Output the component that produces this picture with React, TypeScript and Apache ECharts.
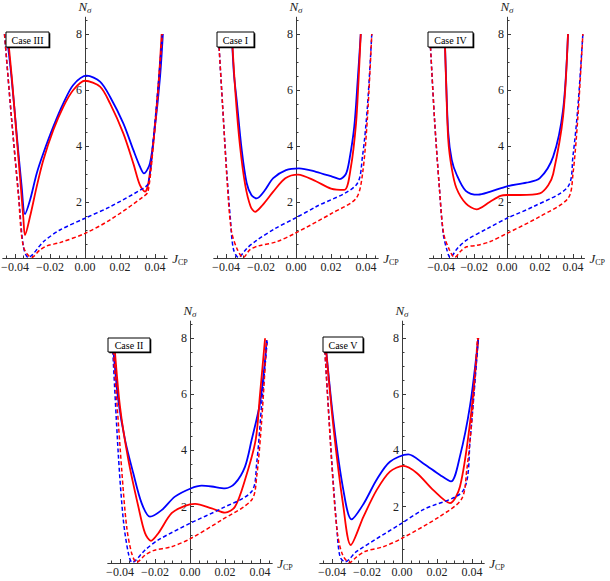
import React, { useEffect, useRef } from "react";
import * as echarts from "echarts";

// ---- axis ticks / labels ----
const xLabelValues = [-0.04, -0.02, 0, 0.02, 0.04];
const xMinorValues = [-0.045, -0.035, -0.03, -0.025, -0.015, -0.01, -0.005, 0.005, 0.01, 0.015, 0.025, 0.03, 0.035, 0.045];
const yLabelValues = [2, 4, 6, 8];
const yMinorValues = [0.5, 1, 1.5, 2.5, 3, 3.5, 4.5, 5, 5.5, 6.5, 7, 7.5, 8.5];
const caseNames = ["Case III", "Case I", "Case IV", "Case II", "Case V"];

// ---- Case III ----
const case3BlueSolid = [[-0.0448, 8], [-0.0419, 6.4], [-0.039, 4.4], [-0.0362, 2.55], [-0.0343, 1.57], [-0.0314, 2.07], [-0.0276, 3.02], [-0.0238, 3.74], [-0.0181, 4.69], [-0.0124, 5.52], [-0.0067, 6.18], [0.001, 6.51], [0.0086, 6.3], [0.0143, 5.76], [0.0219, 4.81], [0.0276, 3.86], [0.0314, 3.26], [0.0337, 3.02], [0.0371, 3.38], [0.04, 4.69], [0.0429, 6.48], [0.0445, 8]];
const case3RedSolid = [[-0.0442, 8], [-0.0417, 6.36], [-0.039, 4.3], [-0.0365, 2.4], [-0.0352, 1.4], [-0.0343, 0.82], [-0.0314, 1.48], [-0.0276, 2.55], [-0.0238, 3.5], [-0.0181, 4.57], [-0.0124, 5.4], [-0.0067, 6.0], [0, 6.33], [0.0086, 6.12], [0.0143, 5.52], [0.0219, 4.45], [0.0276, 3.38], [0.0314, 2.6], [0.0343, 2.37], [0.0362, 2.67], [0.039, 4.1], [0.0419, 6.12], [0.0438, 8]];
const case3BlueDashed = [[-0.046, 8], [-0.042, 5], [-0.038, 2.3], [-0.0352, 0.4], [-0.0324, 0.02], [-0.0238, 0.58], [-0.0143, 1.0], [0, 1.42], [0.0143, 1.83], [0.0333, 2.49], [0.0362, 2.67], [0.039, 4.2], [0.042, 6.3], [0.0442, 8]];
const case3RedDashed = [[-0.046, 8], [-0.042, 5], [-0.038, 2.2], [-0.0352, 0.4], [-0.0305, 0.02], [-0.0257, 0.29], [-0.0219, 0.43], [-0.0143, 0.55], [0, 0.88], [0.0143, 1.36], [0.0333, 2.19], [0.036, 2.37], [0.039, 4.0], [0.042, 6.2], [0.0442, 8]];

// ---- Case I ----
const case1BlueSolid = [[-0.0367, 8], [-0.0355, 6.6], [-0.0339, 5.64], [-0.031, 3.85], [-0.0282, 2.68], [-0.0255, 2.25], [-0.0225, 2.13], [-0.018, 2.4], [-0.013, 2.85], [-0.0057, 3.14], [0.0017, 3.2], [0.0114, 3.08], [0.021, 2.9], [0.025, 2.82], [0.0285, 3.0], [0.0305, 3.5], [0.0333, 4.7], [0.0352, 6.3], [0.037, 8]];
const case1RedSolid = [[-0.0367, 8], [-0.0345, 5.8], [-0.032, 4.0], [-0.029, 2.6], [-0.026, 1.85], [-0.0234, 1.65], [-0.019, 1.9], [-0.013, 2.37], [-0.0061, 2.85], [0.0011, 2.98], [0.0114, 2.74], [0.02, 2.48], [0.0276, 2.43], [0.0314, 3.26], [0.0343, 4.8], [0.0357, 6.3], [0.037, 8]];
const case1BlueDashed = [[-0.0444, 8], [-0.042, 5.5], [-0.0395, 3.0], [-0.0375, 1.4], [-0.0358, 0.33], [-0.0329, 0.02], [-0.028, 0.35], [-0.0225, 0.63], [-0.012, 1.05], [-0.0006, 1.42], [0.0114, 1.83], [0.0343, 2.6], [0.038, 3.64], [0.0408, 5.4], [0.0433, 8]];
const case1RedDashed = [[-0.0444, 8], [-0.042, 5.5], [-0.0395, 2.9], [-0.037, 1.0], [-0.0335, 0.3], [-0.0301, 0.02], [-0.0263, 0.3], [-0.0215, 0.43], [-0.0111, 0.58], [-0.0006, 0.88], [0.0206, 1.6], [0.0343, 2.13], [0.038, 3.0], [0.0408, 5.0], [0.0433, 8]];

// ---- Case IV ----
const case4BlueSolid = [[-0.0378, 8], [-0.037, 6.5], [-0.0356, 4.45], [-0.0335, 3.5], [-0.0307, 3.0], [-0.025, 2.4], [-0.0175, 2.26], [-0.0105, 2.36], [0, 2.56], [0.0118, 2.69], [0.0199, 2.85], [0.028, 3.62], [0.034, 5.29], [0.037, 8]];
const case4RedSolid = [[-0.0378, 8], [-0.037, 6.4], [-0.0356, 4.2], [-0.0335, 3.2], [-0.0307, 2.5], [-0.025, 1.95], [-0.0185, 1.74], [-0.0105, 2.0], [-0.004, 2.22], [0, 2.25], [0.008, 2.25], [0.0199, 2.31], [0.025, 2.6], [0.028, 3.0], [0.034, 5.05], [0.037, 8]];
const case4BlueDashed = [[-0.0468, 8], [-0.044, 5], [-0.041, 2.5], [-0.0387, 0.88], [-0.0365, 0.3], [-0.0345, 0.02], [-0.03, 0.35], [-0.0245, 0.64], [-0.012, 1.05], [0, 1.42], [0.0158, 1.83], [0.037, 2.55], [0.04, 3.64], [0.043, 5.4], [0.046, 8]];
const case4RedDashed = [[-0.0468, 8], [-0.044, 5], [-0.041, 2.5], [-0.0385, 0.9], [-0.035, 0.3], [-0.0317, 0.02], [-0.028, 0.25], [-0.0245, 0.4], [-0.0185, 0.45], [-0.0105, 0.58], [0, 0.88], [0.0199, 1.48], [0.037, 2.13], [0.04, 3.0], [0.043, 5.05], [0.046, 8]];

// ---- Case II ----
const case2BlueSolid = [[-0.0445, 8], [-0.0438, 7.57], [-0.041, 5.8], [-0.0371, 4.37], [-0.0324, 3.19], [-0.0276, 2.12], [-0.0229, 1.65], [-0.0162, 1.88], [-0.0086, 2.36], [0.0004, 2.65], [0.0067, 2.75], [0.0124, 2.72], [0.02, 2.65], [0.0257, 2.83], [0.0314, 3.42], [0.0352, 4.37], [0.04, 5.68], [0.0429, 7.22], [0.0438, 7.93]];
const case2RedSolid = [[-0.0435, 8], [-0.04, 5.56], [-0.0352, 3.66], [-0.0295, 2.0], [-0.0257, 1.06], [-0.0223, 0.79], [-0.0181, 1.06], [-0.0105, 1.77], [-0.0029, 2.03], [0.0029, 2.1], [0.0124, 1.94], [0.02, 1.79], [0.0257, 2.0], [0.0314, 2.95], [0.0375, 4.37], [0.04, 6.0], [0.0429, 7.99]];
const case2BlueDashed = [[-0.0445, 8], [-0.041, 3.9], [-0.0381, 1.53], [-0.0352, 0.34], [-0.033, 0.02], [-0.0257, 0.46], [-0.0181, 0.82], [0, 1.41], [0.0181, 1.94], [0.0352, 2.54], [0.0381, 3.54], [0.041, 5.68], [0.0442, 7.93]];
const case2RedDashed = [[-0.0443, 8], [-0.039, 3.3], [-0.0362, 1.29], [-0.0333, 0.34], [-0.0305, 0.02], [-0.0257, 0.28], [-0.021, 0.44], [-0.0105, 0.58], [0, 0.86], [0.0181, 1.53], [0.0352, 2.24], [0.0381, 3.07], [0.041, 5.1], [0.0438, 7.93]];

// ---- Case V ----
const case5BlueSolid = [[-0.044, 8], [-0.039, 4.97], [-0.0335, 2.59], [-0.0288, 1.55], [-0.022, 2.1], [-0.0145, 2.96], [-0.0069, 3.6], [0.0036, 3.86], [0.0122, 3.54], [0.0217, 3.13], [0.028, 2.9], [0.0331, 3.79], [0.0389, 5.6], [0.0436, 8]];
const case5RedSolid = [[-0.044, 8], [-0.039, 4.73], [-0.0335, 2.0], [-0.0293, 0.64], [-0.022, 1.65], [-0.0145, 2.59], [-0.0069, 3.25], [0.0008, 3.45], [0.0084, 3.2], [0.0179, 2.59], [0.0274, 2.13], [0.0331, 2.71], [0.0389, 5.0], [0.0436, 8]];
const case5BlueDashed = [[-0.0445, 8], [-0.0401, 3.6], [-0.0372, 1.2], [-0.0354, 0.22], [-0.0325, 0.04], [-0.0259, 0.41], [0, 1.42], [0.0122, 1.9], [0.0351, 2.59], [0.0389, 4.37], [0.0436, 8]];
const case5RedDashed = [[-0.0445, 8], [-0.0401, 3.5], [-0.037, 1.1], [-0.034, 0.3], [-0.03, 0.02], [-0.0259, 0.22], [-0.0212, 0.41], [-0.0107, 0.58], [0, 0.88], [0.0217, 1.66], [0.0341, 2.28], [0.037, 3.3], [0.0398, 5.0], [0.0431, 8]];

const panelSeries = [
  [case3BlueSolid, case3RedSolid, case3BlueDashed, case3RedDashed],
  [case1BlueSolid, case1RedSolid, case1BlueDashed, case1RedDashed],
  [case4BlueSolid, case4RedSolid, case4BlueDashed, case4RedDashed],
  [case2BlueSolid, case2RedSolid, case2BlueDashed, case2RedDashed],
  [case5BlueSolid, case5RedSolid, case5BlueDashed, case5RedDashed],
];

const X_MIN = -0.047;
const X_MAX = 0.047;

// layout (pixels)
const grids = [
  { left: 2.75, top: 17.2, width: 164.5, height: 240.8 },
  { left: 213.75, top: 17.2, width: 164.5, height: 240.8 },
  { left: 429.5, top: 17.2, width: 155, height: 240.8 },
  { left: 107.75, top: 321.1, width: 164.5, height: 241.9 },
  { left: 319.75, top: 321.1, width: 164.5, height: 241.9 },
];
const boxes = [
  { x: 6, y: 32, w: 43, h: 15 },
  { x: 217, y: 32, w: 37, h: 15 },
  { x: 428, y: 32, w: 45, h: 15 },
  { x: 108, y: 338, w: 42, h: 14 },
  { x: 323, y: 337, w: 40, h: 15 },
];

const FONT = "'Liberation Serif', 'Times New Roman', serif";
const AXIS_COLOR = "#3a3a3a";
const LABEL_COLOR = "#222";

function fmtX(v: number) {
  const s = Math.abs(v).toFixed(2);
  return v < -1e-9 ? "\u2212" + s : s;
}

export default function App() {
  const ref = useRef<HTMLDivElement>(null);
  useEffect(() => {
    if (!ref.current) return;
    const chart = echarts.init(ref.current, null, { renderer: "svg" });
    const xAxis: any[] = [];
    const yAxis: any[] = [];
    const series: any[] = [];
    const graphic: any[] = [];
    grids.forEach((g, i) => {
      const xi = i * 2;
      // distance from grid left edge to x = 0
      const zeroOffset = (g.width * (0 - X_MIN)) / (X_MAX - X_MIN);
      xAxis.push({
        type: "value", gridIndex: i, min: X_MIN, max: X_MAX, position: "bottom",
        name: "{n|J}{s|CP}", nameLocation: "end", nameGap: 5, nameMoveOverlap: false,
        nameTextStyle: {
          rich: {
            n: { fontFamily: FONT, fontStyle: "italic", fontSize: 13, color: LABEL_COLOR, lineHeight: 16 },
            s: { fontFamily: FONT, fontSize: 8, color: LABEL_COLOR, verticalAlign: "bottom", lineHeight: 9 },
          },
        },
        axisLine: { show: true, onZero: false, lineStyle: { color: AXIS_COLOR, width: 1 } },
        axisTick: { show: true, inside: true, length: 4, customValues: xLabelValues, lineStyle: { color: AXIS_COLOR } },
        axisLabel: { show: true, customValues: xLabelValues, formatter: fmtX, fontFamily: FONT, fontSize: 12, color: LABEL_COLOR, margin: 3 },
        splitLine: { show: false },
      });
      xAxis.push({
        type: "value", gridIndex: i, min: X_MIN, max: X_MAX, position: "bottom", offset: 0,
        axisLine: { show: false, onZero: false },
        axisTick: { show: true, inside: true, length: 2.5, customValues: xMinorValues, lineStyle: { color: AXIS_COLOR } },
        axisLabel: { show: false },
        splitLine: { show: false },
      });
      yAxis.push({
        type: "value", gridIndex: i, min: 0, max: 8.6, position: "left", offset: -zeroOffset,
        name: "{n|N}{s|\u03c3}", nameLocation: "end", nameGap: 3, nameMoveOverlap: false,
        nameTextStyle: {
          rich: {
            n: { fontFamily: FONT, fontStyle: "italic", fontSize: 13, color: LABEL_COLOR, lineHeight: 16 },
            s: { fontFamily: FONT, fontStyle: "italic", fontSize: 9, color: LABEL_COLOR, verticalAlign: "bottom", lineHeight: 10 },
          },
        },
        axisLine: { show: true, onZero: false, lineStyle: { color: AXIS_COLOR, width: 1 } },
        axisTick: { show: true, inside: true, length: 4, customValues: yLabelValues, lineStyle: { color: AXIS_COLOR } },
        axisLabel: { show: true, customValues: yLabelValues, fontFamily: FONT, fontSize: 12, color: LABEL_COLOR, margin: 3 },
        splitLine: { show: false },
      });
      yAxis.push({
        type: "value", gridIndex: i, min: 0, max: 8.6, position: "left", offset: -zeroOffset,
        axisLine: { show: false, onZero: false },
        axisTick: { show: true, inside: true, length: 2.5, customValues: yMinorValues, lineStyle: { color: AXIS_COLOR } },
        axisLabel: { show: false },
        splitLine: { show: false },
      });
      const styles = [
        { color: "#0000ff", width: 1.8, type: "solid" },
        { color: "#ff0000", width: 1.8, type: "solid" },
        { color: "#0000ff", width: 1.5, type: [4, 2.5] },
        { color: "#ff0000", width: 1.5, type: [4, 2.5] },
      ];
      panelSeries[i].forEach((data, k) => {
        series.push({
          type: "line", xAxisIndex: xi, yAxisIndex: xi, data,
          showSymbol: false, symbol: "none", smooth: 0.3,
          lineStyle: styles[k], z: 2 + k, silent: true,
        });
      });
      const b = boxes[i];
      graphic.push({
        type: "group", z: 100,
        children: [
          { type: "rect", shape: { x: b.x + 1.3, y: b.y + 1.3, width: b.w, height: b.h }, style: { fill: "#000" }, z: 100 },
          { type: "rect", shape: { x: b.x, y: b.y, width: b.w, height: b.h }, style: { fill: "#fff", stroke: "#000", lineWidth: 1 }, z: 101 },
          { type: "text", x: b.x + b.w / 2, y: b.y + b.h / 2 + 0.5, z: 102,
            style: { text: caseNames[i], fontFamily: FONT, fontSize: 10, fill: "#000", align: "center", verticalAlign: "middle" } },
        ],
      });
    });
    chart.setOption({
      animation: false,
      backgroundColor: "#fff",
      textStyle: { fontFamily: FONT },
      grid: grids.map((g) => ({ ...g, containLabel: false, outerBoundsMode: "none" })),
      xAxis, yAxis, series, graphic,
    });
    return () => chart.dispose();
  }, []);
  return <div ref={ref} style={{ position: "fixed", left: 0, top: 0, width: 610, height: 581, background: "#fff" }} />;
}
